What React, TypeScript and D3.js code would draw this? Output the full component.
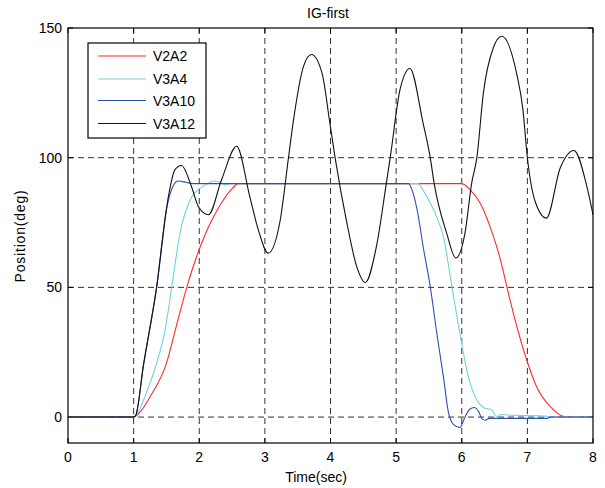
import React from "react";
import * as d3 from "d3";

const title = "IG-first";
const xTicks = [0, 1, 2, 3, 4, 5, 6, 7, 8];
const yTicks = [0, 50, 100, 150];
const seriesNames = ["V2A2", "V3A4", "V3A10", "V3A12"];
const seriesColors = ["#ff2a2a", "#6fd3d9", "#2f4fb8", "#111111"];

const redT = [0, 1.0, 1.1, 1.25, 1.5, 1.65, 1.81, 1.96, 2.1, 2.22, 2.35, 2.48, 2.6, 5.98, 6.05, 6.13, 6.28, 6.43, 6.59, 6.71, 6.84, 6.99, 7.14, 7.35, 7.53, 7.6, 8];
const redV = [0, 0, 2, 7.8, 20.7, 35, 50, 61.9, 71, 77.3, 83, 87.5, 90, 90, 89.5, 87.6, 82.5, 73.5, 60.6, 47.8, 34.9, 22, 11.7, 4, 0.4, 0, 0];

const cyanT = [0, 1.0, 1.05, 1.17, 1.35, 1.48, 1.58, 1.7, 1.89, 2.0, 2.13, 2.22, 2.32, 2.39, 2.48, 5.34, 5.42, 5.52, 5.62, 5.72, 5.85, 5.98, 6.1, 6.23, 6.33, 6.46, 6.53, 6.6, 6.7, 7.3, 7.4, 8];
const cyanV = [0, 0, 1, 7.8, 20.7, 33.6, 50, 70, 85, 88, 90, 91, 90.5, 89.5, 90, 90, 87, 82.5, 77, 69.6, 50.3, 31, 15.6, 6.6, 3.7, 2.7, 0.1, 1, 0.8, 0.3, 0, 0];

const blueT = [0, 1.0, 1.03, 1.15, 1.35, 1.5, 1.6, 1.68, 1.8, 1.9, 5.19, 5.25, 5.32, 5.42, 5.52, 5.62, 5.72, 5.8, 5.88, 5.97, 6.05, 6.12, 6.19, 6.26, 6.31, 6.36, 6.42, 7.3, 7.35, 8];
const blueV = [0, 0, 0.5, 20, 50, 80, 89, 91, 90.5, 90, 90, 87, 79.9, 64.5, 50.3, 32.3, 15.6, 1.4, -3, -4, 0, 3, 3.7, 2, -0.8, -1.2, -0.5, -0.5, 0, 0];

const blackT = [0, 1.0, 1.03, 1.15, 1.35, 1.53, 1.63, 1.73, 1.88, 1.99, 2.14, 2.34, 2.57, 2.77, 2.9, 3.05, 3.23, 3.36, 3.43, 3.59, 3.71, 3.87, 3.99, 4.07, 4.25, 4.4, 4.53, 4.7, 4.85, 4.91, 5.06, 5.21, 5.41, 5.52, 5.58, 5.77, 5.91, 6.05, 6.15, 6.23, 6.33, 6.48, 6.61, 6.84, 6.93, 7.0, 7.12, 7.29, 7.5, 7.71, 7.9, 8.0];
const blackV = [0, 0, 0.5, 20, 50, 85, 95.4, 97, 89, 81, 78, 91.5, 104.4, 85, 72.2, 63.2, 75.4, 100, 113.4, 135.3, 139.8, 132.7, 113.4, 100, 74.8, 58, 51.9, 65.8, 90, 100, 126.3, 134.4, 113.4, 100, 90, 70.9, 61.3, 71, 90, 100, 125, 142.3, 146.8, 132, 119, 100, 83, 76.7, 96, 102.8, 89.6, 78];

const W = 605;
const H = 488;
const M = { left: 68, top: 28, right: 593, bottom: 443 };
const FONT = "'Liberation Sans', Arial, Helvetica, sans-serif";

export default function App() {
  const x = d3.scaleLinear().domain([0, 8]).range([M.left, M.right]);
  const y = d3.scaleLinear().domain([-10, 150]).range([M.bottom, M.top]);
  const line = d3
    .line<[number, number]>()
    .x((d) => x(d[0]))
    .y((d) => y(d[1]))
    .curve(d3.curveMonotoneX);

  const series = [
    { t: redT, v: redV },
    { t: cyanT, v: cyanV },
    { t: blueT, v: blueV },
    { t: blackT, v: blackV },
  ];

  const legend = { x0: 88, y0: 43, x1: 206, y1: 138 };
  const legendRows = [56, 79, 100.5, 123.5];

  return (
    <svg
      width={W}
      height={H}
      style={{ position: "absolute", left: 0, top: 0, background: "#fff" }}
      fontFamily={FONT}
    >
      <rect x={0} y={0} width={W} height={H} fill="#fff" />
      {/* grid */}
      {xTicks.slice(1, -1).map((t) => (
        <line key={"gx" + t} x1={x(t)} x2={x(t)} y1={M.top} y2={M.bottom} stroke="#333" strokeWidth={1} strokeDasharray="6,4" />
      ))}
      {yTicks.slice(0, -1).map((t) => (
        <line key={"gy" + t} x1={M.left} x2={M.right} y1={y(t)} y2={y(t)} stroke="#333" strokeWidth={1} strokeDasharray="6,4" />
      ))}
      {/* ticks */}
      {xTicks.map((t) => (
        <g key={"tx" + t}>
          <line x1={x(t)} x2={x(t)} y1={M.bottom} y2={M.bottom - 5} stroke="#000" />
          <line x1={x(t)} x2={x(t)} y1={M.top} y2={M.top + 5} stroke="#000" />
          <text x={x(t)} y={462} textAnchor="middle" fontSize={14}>{t}</text>
        </g>
      ))}
      {yTicks.map((t) => (
        <g key={"ty" + t}>
          <line x1={M.left} x2={M.left + 5} y1={y(t)} y2={y(t)} stroke="#000" />
          <line x1={M.right} x2={M.right - 5} y1={y(t)} y2={y(t)} stroke="#000" />
          <text x={62} y={y(t) + 5} textAnchor="end" fontSize={14}>{t}</text>
        </g>
      ))}
      {/* series */}
      {series.map((s, i) => (
        <path
          key={"s" + i}
          d={line(s.t.map((tt, j) => [tt, s.v[j]] as [number, number])) || ""}
          fill="none"
          stroke={seriesColors[i]}
          strokeWidth={1.1}
        />
      ))}
      {/* box */}
      <rect x={M.left} y={M.top} width={M.right - M.left} height={M.bottom - M.top} fill="none" stroke="#000" strokeWidth={1.2} />
      {/* legend */}
      <rect x={legend.x0} y={legend.y0} width={legend.x1 - legend.x0} height={legend.y1 - legend.y0} fill="#fff" stroke="#000" strokeWidth={1.2} />
      {seriesNames.map((n, i) => (
        <g key={"l" + n}>
          <line x1={98} x2={146} y1={legendRows[i]} y2={legendRows[i]} stroke={seriesColors[i]} strokeWidth={1.1} />
          <text x={153} y={legendRows[i] + 5} fontSize={14}>{n}</text>
        </g>
      ))}
      {/* labels */}
      <text x={328} y={18} textAnchor="middle" fontSize={14}>{title}</text>
      <text x={316} y={482} textAnchor="middle" fontSize={14}>Time(sec)</text>
      <text transform={`translate(25,236) rotate(-90)`} textAnchor="middle" fontSize={14} letterSpacing={0.8}>Position(deg)</text>
    </svg>
  );
}
